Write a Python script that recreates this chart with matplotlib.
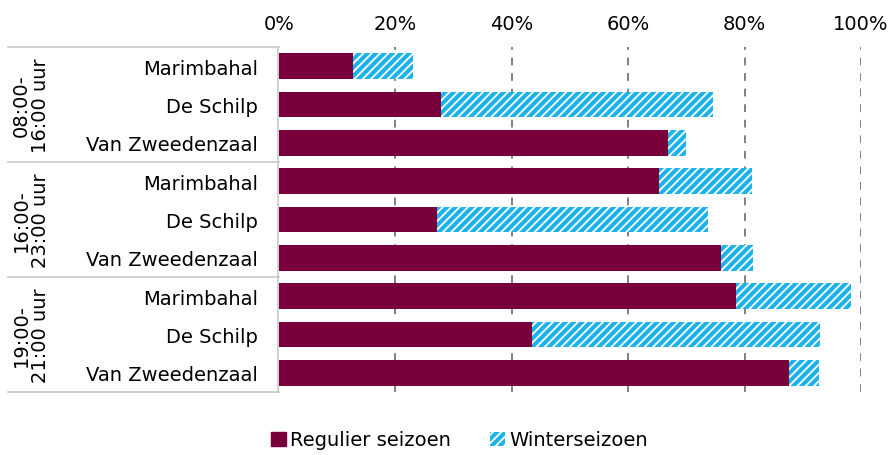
import matplotlib
matplotlib.use("Agg")
import matplotlib.pyplot as plt
from matplotlib.patches import Patch
from matplotlib.lines import Line2D
import numpy as np

plt.rcParams['font.family'] = ['DejaVu Sans']
plt.rcParams['hatch.linewidth'] = 1.3

groups = ["08:00-\n16:00 uur", "16:00-\n23:00 uur", "19:00-\n21:00 uur"]
venues = ["Marimbahal", "De Schilp", "Van Zweedenzaal"]
regulier = [12.7, 27.8, 66.8, 65.3, 27.1, 76.0, 78.5, 43.5, 87.6]
winter = [10.3, 46.7, 3.2, 15.9, 46.6, 5.4, 19.7, 49.5, 5.2]
xticks = [0, 20, 40, 60, 80, 100]
xticklabels = ["0%", "20%", "40%", "60%", "80%", "100%"]
series_names = ["Regulier seizoen", "Winterseizoen"]

red = "#7A003C"
blue = "#1DB3EA"
fs = 14

fig = plt.figure(figsize=(8.89, 4.56), dpi=100)
ax = fig.add_axes([279/889, 63/456, 582/889, 345/456])

labels = venues * len(groups)
y = np.arange(len(labels))
ax.barh(y, regulier, height=0.67, color=red, zorder=3)
ax.barh(y, winter, left=regulier, height=0.67, facecolor=blue,
        edgecolor="white", linewidth=0, hatch="////", zorder=3)

ax.set_xlim(0, 100)
ax.set_ylim(len(labels) - 0.5, -0.5)
ax.xaxis.tick_top()
ax.set_xticks(xticks)
ax.set_xticklabels(xticklabels, fontsize=fs)
ax.tick_params(axis="x", length=0, pad=10)
ax.set_yticks(y)
ax.set_yticklabels(labels, fontsize=fs)
ax.tick_params(axis="y", length=0, pad=15)
for s in ax.spines.values():
    s.set_visible(False)
for xv in xticks[1:]:
    ax.axvline(xv, color="#808080", linestyle=(0, (4, 4)), linewidth=1.4, zorder=1)

# group bracket lines
trans = ax.get_yaxis_transform()
gx0 = (8 - 279) / 582
for b in [-0.5, 2.5, 5.5, 8.5]:
    ax.add_line(Line2D([gx0, 0], [b, b], transform=trans, color="#C8C8C8",
                       linewidth=1.2, clip_on=False))
ax.add_line(Line2D([-0.002, -0.002], [-0.5, 8.5], transform=trans, color="#C8C8C8",
                   linewidth=1.2, clip_on=False))
for i, g in enumerate(groups):
    ax.text((31 - 279) / 582, i * 3 + 1, g, transform=trans, rotation=90,
            ha="center", va="center", fontsize=fs, linespacing=1.05)

handles = [Patch(facecolor=red, edgecolor=red),
           Patch(facecolor=blue, edgecolor="white", linewidth=0, hatch="////")]
fig.legend(handles, series_names, loc="center", bbox_to_anchor=(0.517, 0.033),
           ncol=2, frameon=False, fontsize=fs, handlelength=0.75,
           handleheight=0.75, handletextpad=0.25, columnspacing=2.0)

fig.savefig("out.png", dpi=100)
